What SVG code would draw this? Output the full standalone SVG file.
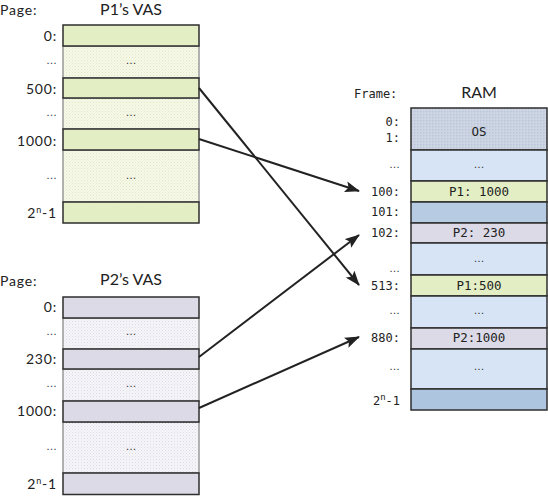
<svg xmlns="http://www.w3.org/2000/svg" width="548" height="496" viewBox="0 0 548 496">
<defs>
<pattern id="dotG" width="3" height="3" patternUnits="userSpaceOnUse"><rect width="3" height="3" fill="#f6f8e8"/><rect x="0" y="0" width="1" height="1" fill="#dfe8c2"/><rect x="1.5" y="1.5" width="1" height="1" fill="#e6edcf"/></pattern>
<pattern id="dotP" width="3" height="3" patternUnits="userSpaceOnUse"><rect width="3" height="3" fill="#f6f5f9"/><rect x="0" y="0" width="1" height="1" fill="#dcd9e6"/><rect x="1.5" y="1.5" width="1" height="1" fill="#e4e2ec"/></pattern>
<pattern id="dotOS" width="3" height="3" patternUnits="userSpaceOnUse"><rect width="3" height="3" fill="#ccd4e4"/><rect x="0" y="0" width="1.5" height="1.5" fill="#bcc6da"/><rect x="1.5" y="1.5" width="1" height="1" fill="#d8dde2"/></pattern>
<marker id="ah" markerWidth="15" markerHeight="11" refX="14" refY="5.5" orient="auto" markerUnits="userSpaceOnUse"><path d="M0,0 L15,5.5 L0,11 L3,5.5 Z" fill="#222"/></marker>
<style>
.lbl{font-family:"Lato","Open Sans","Liberation Sans",sans-serif;font-size:14px;letter-spacing:0.8px;fill:#222;text-anchor:end}
.ttl{font-family:"Lato","Open Sans","Liberation Sans",sans-serif;font-size:16px;fill:#222;text-anchor:middle}
.hd{font-family:"Lato","Open Sans","Liberation Sans",sans-serif;font-size:14px;letter-spacing:0.8px;fill:#222}
.mono{font-family:"DejaVu Sans Mono","Liberation Mono",monospace;font-size:12px;fill:#222}
.fl{font-family:"DejaVu Sans Mono","Liberation Mono",monospace;font-size:12px;fill:#222;text-anchor:end}
.cell{font-family:"DejaVu Sans Mono","Liberation Mono",monospace;font-size:12.5px;fill:#222;text-anchor:middle}
.ell{font-family:"Liberation Sans",sans-serif;font-size:11px;fill:#333;text-anchor:middle}
.elr{font-family:"Liberation Sans",sans-serif;font-size:11px;fill:#333;text-anchor:end}
.g{fill:#e3eec4;stroke:#2e2e2e;stroke-width:1.5}
.gd{fill:url(#dotG);stroke:#999;stroke-width:1.5}
.p{fill:#dcdae7;stroke:#2e2e2e;stroke-width:1.5}
.pd{fill:url(#dotP);stroke:#999;stroke-width:1.5}
.b{fill:#d6e4f6;stroke:#2e2e2e;stroke-width:1.5}
.os{fill:url(#dotOS);stroke:#2e2e2e;stroke-width:1.5}
.b2{fill:#b7cbe3;stroke:#2e2e2e;stroke-width:1.5}
.b3{fill:#aec5df;stroke:#2e2e2e;stroke-width:1.5}
.conn{stroke:#222;stroke-width:2;fill:none;marker-end:url(#ah)}
</style>
</defs>
<rect width="548" height="496" fill="#ffffff"/>

<g id="p1vas">
<text class="hd" x="0" y="15">Page:</text>
<text class="ttl" x="131" y="15">P1’s VAS</text>
<rect class="gd" x="63" y="46" width="136" height="32"/>
<rect class="gd" x="63" y="98" width="136" height="31"/>
<rect class="gd" x="63" y="150" width="136" height="52"/>
<rect class="g" x="63" y="25" width="136" height="21"/>
<rect class="g" x="63" y="78" width="136" height="20"/>
<rect class="g" x="63" y="129" width="136" height="21"/>
<rect class="g" x="63" y="202" width="136" height="21"/>
<text class="lbl" x="57" y="41">0:</text>
<text class="elr" x="57" y="64">…</text>
<text class="ell" x="131" y="64">…</text>
<text class="lbl" x="57" y="94">500:</text>
<text class="elr" x="57" y="116">…</text>
<text class="ell" x="131" y="116">…</text>
<text class="lbl" x="57" y="146">1000:</text>
<text class="elr" x="57" y="179">…</text>
<text class="ell" x="131" y="179">…</text>
<text class="lbl" x="57" y="218">2<tspan font-size="9" dy="-5">n</tspan><tspan dy="5">-1</tspan></text>
</g>

<g id="p2vas">
<text class="hd" x="0" y="286">Page:</text>
<text class="ttl" x="131" y="285">P2’s VAS</text>
<rect class="pd" x="63" y="318" width="136" height="31"/>
<rect class="pd" x="63" y="369" width="136" height="32"/>
<rect class="pd" x="63" y="422" width="136" height="51"/>
<rect class="p" x="63" y="297" width="136" height="21"/>
<rect class="p" x="63" y="349" width="136" height="20"/>
<rect class="p" x="63" y="401" width="136" height="21"/>
<rect class="p" x="63" y="473" width="136" height="21.5"/>
<text class="lbl" x="57" y="312">0:</text>
<text class="elr" x="57" y="335">…</text>
<text class="ell" x="131" y="335">…</text>
<text class="lbl" x="57" y="364">230:</text>
<text class="elr" x="57" y="387">…</text>
<text class="ell" x="131" y="387">…</text>
<text class="lbl" x="57" y="416">1000:</text>
<text class="elr" x="57" y="450">…</text>
<text class="ell" x="131" y="450">…</text>
<text class="lbl" x="57" y="489">2<tspan font-size="9" dy="-5">n</tspan><tspan dy="5">-1</tspan></text>
</g>

<g id="ram">
<text class="mono" x="354" y="98">Frame:</text>
<text class="ttl" x="479" y="98">RAM</text>
<rect class="os" x="411" y="108" width="136" height="42"/>
<rect class="b" x="411" y="150" width="136" height="31"/>
<rect class="g" x="411" y="181" width="136" height="21"/>
<rect class="b2" x="411" y="202" width="136" height="21"/>
<rect class="p" x="411" y="223" width="136" height="20"/>
<rect class="b" x="411" y="243" width="136" height="32"/>
<rect class="g" x="411" y="275" width="136" height="21"/>
<rect class="b" x="411" y="296" width="136" height="32"/>
<rect class="p" x="411" y="328" width="136" height="21"/>
<rect class="b" x="411" y="349" width="136" height="40"/>
<rect class="b3" x="411" y="389" width="136" height="21"/>
<text class="fl" x="400" y="126">0:</text>
<text class="fl" x="400" y="142">1:</text>
<text class="elr" x="400" y="168">…</text>
<text class="fl" x="400" y="196">100:</text>
<text class="fl" x="400" y="216">101:</text>
<text class="fl" x="400" y="237">102:</text>
<text class="elr" x="400" y="272">…</text>
<text class="fl" x="400" y="290">513:</text>
<text class="elr" x="400" y="314">…</text>
<text class="fl" x="400" y="342">880:</text>
<text class="elr" x="400" y="370">…</text>
<text class="fl" x="400" y="405">2<tspan font-size="9" dy="-5">n</tspan><tspan dy="5">-1</tspan></text>
<text class="cell" x="479" y="136">OS</text>
<text class="ell" x="479" y="168">…</text>
<text class="cell" x="479" y="196">P1: 1000</text>
<text class="cell" x="479" y="237">P2: 230</text>
<text class="ell" x="479" y="262">…</text>
<text class="cell" x="479" y="290">P1:500</text>
<text class="ell" x="479" y="314">…</text>
<text class="cell" x="479" y="342">P2:1000</text>
<text class="ell" x="479" y="370">…</text>
</g>

<g id="connectors">
<line class="conn" x1="199" y1="88" x2="359" y2="285"/>
<line class="conn" x1="199" y1="139" x2="359" y2="191"/>
<line class="conn" x1="199" y1="357" x2="359" y2="235"/>
<line class="conn" x1="199" y1="408" x2="359" y2="337"/>
</g>
</svg>
